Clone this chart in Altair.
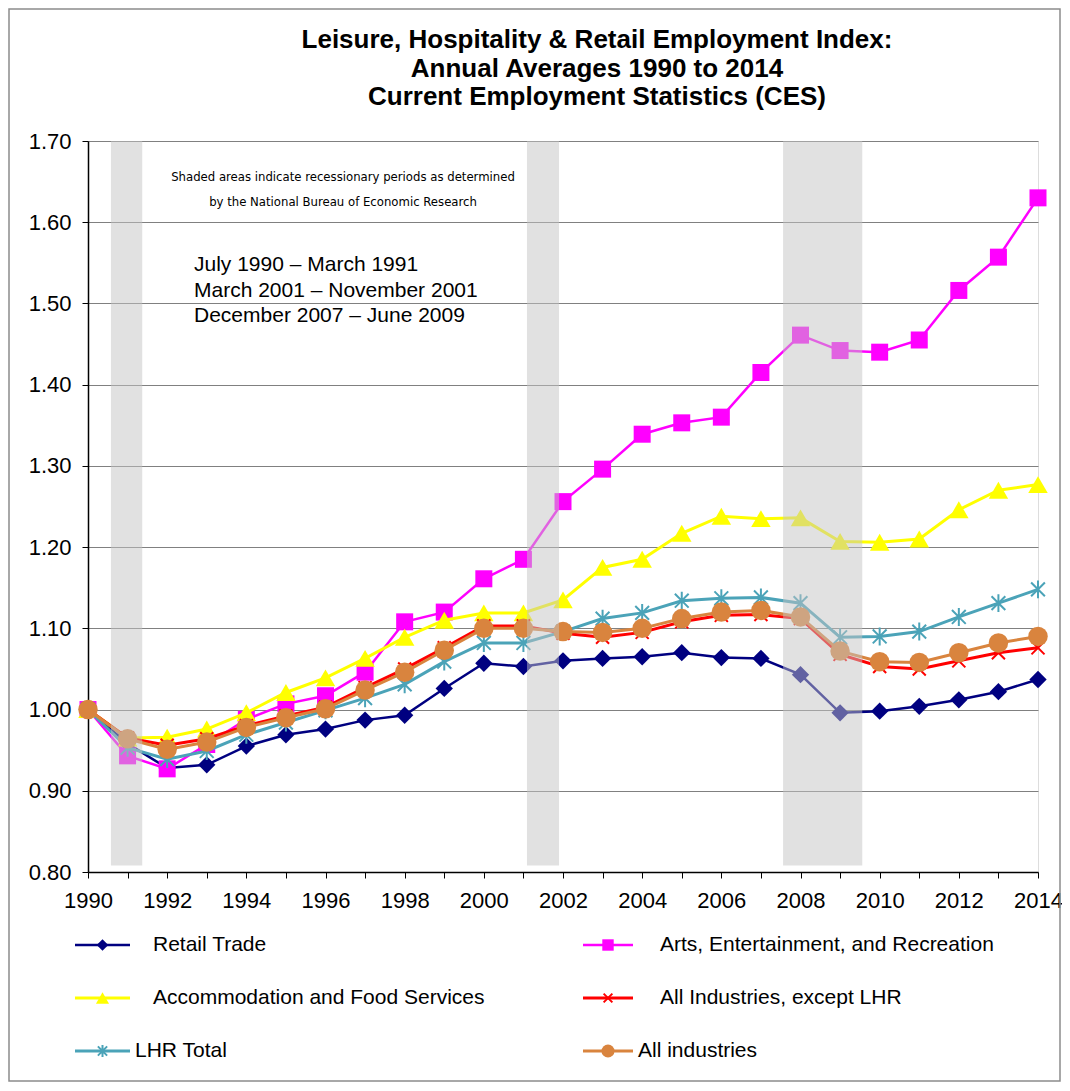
import altair as alt
import pandas as pd

FONT = "Liberation Sans"

years = list(range(1990, 2015))

series_names = [
    "Retail Trade",
    "Arts, Entertainment, and Recreation",
    "Accommodation and Food Services",
    "All Industries, except LHR",
    "LHR Total",
    "All industries",
]

retail = [1.000, 0.958, 0.928, 0.932, 0.955, 0.969, 0.976, 0.987, 0.993, 1.026, 1.057, 1.053, 1.060,
          1.063, 1.065, 1.070, 1.064, 1.063, 1.043, 0.996, 0.998, 1.004, 1.012, 1.022, 1.037]
arts = [1.000, 0.943, 0.927, 0.957, 0.988, 1.007, 1.017, 1.046, 1.108, 1.120, 1.161, 1.185, 1.256,
        1.296, 1.339, 1.353, 1.360, 1.415, 1.461, 1.442, 1.440, 1.455, 1.516, 1.557, 1.630]
accommodation = [1.000, 0.965, 0.966, 0.976, 0.996, 1.021, 1.039, 1.063, 1.089, 1.110, 1.119, 1.119, 1.135,
                 1.175, 1.185, 1.217, 1.238, 1.235, 1.236, 1.207, 1.206, 1.210, 1.246, 1.270, 1.277]
all_except_lhr = [1.000, 0.965, 0.956, 0.964, 0.980, 0.992, 1.003, 1.027, 1.050, 1.076, 1.103, 1.103, 1.094,
                  1.089, 1.095, 1.108, 1.116, 1.117, 1.112, 1.068, 1.053, 1.050, 1.060, 1.070, 1.076]
lhr_total = [1.000, 0.953, 0.939, 0.949, 0.969, 0.984, 0.999, 1.014, 1.031, 1.059, 1.082, 1.082, 1.096,
             1.112, 1.119, 1.134, 1.137, 1.138, 1.131, 1.089, 1.090, 1.096, 1.114, 1.131, 1.148]
all_industries = [1.000, 0.964, 0.951, 0.960, 0.978, 0.990, 1.001, 1.024, 1.046, 1.073, 1.100, 1.100, 1.096,
                  1.095, 1.100, 1.112, 1.120, 1.122, 1.114, 1.072, 1.059, 1.058, 1.070, 1.082, 1.090]

series_values = [retail, arts, accommodation, all_except_lhr, lhr_total, all_industries]

rec_start = [1990.58, 2001.09, 2007.56]
rec_end = [1991.37, 2001.90, 2009.56]

y_ticks = [0.80, 0.90, 1.00, 1.10, 1.20, 1.30, 1.40, 1.50, 1.60, 1.70]

title_lines = [
    "Leisure, Hospitality & Retail Employment Index:",
    "Annual Averages 1990 to 2014",
    "Current Employment Statistics (CES)",
]
note_lines = [
    "Shaded  areas indicate recessionary periods as determined",
    "by the National  Bureau of Economic Research",
]
period_lines = [
    "July 1990 \u2013 March 1991",
    "March 2001 \u2013 November 2001",
    "December 2007 \u2013 June 2009",
]

# ---- styles ----
colors = ["#000080", "#FF00FF", "#FFFF00", "#FF0000", "#4BA3B8", "#D9843E"]
X_PATH = "M-1,-1L1,1M-1,1L1,-1"
AST_PATH = "M-1,-1L1,1M-1,1L1,-1M0,-1.3L0,1.3"
shapes = ["diamond", "square", "triangle-up", X_PATH, AST_PATH, "circle"]
filled = [True, True, True, False, False, True]
msize = [300, 289, 380, 170, 190, 380]
lwidth = [2.5, 2.5, 3, 3, 3, 3]

W, H = 950, 731

xscale = alt.Scale(domain=[1990, 2014], nice=False, zero=False)
yscale = alt.Scale(domain=[0.8, 1.7], nice=False, zero=False)

xaxis = alt.Axis(
    values=years, format="d",
    labelExpr="datum.value % 2 == 0 ? datum.label : ''",
    tickSize=6, tickColor="black", tickWidth=1,
    domainColor="black", domainWidth=1.5,
    labelFont=FONT, labelFontSize=22, labelColor="black", labelPadding=12,
    labelFlush=False, labelOverlap=False, grid=False, title=None,
)
yaxis = alt.Axis(
    values=y_ticks, format=".2f",
    tickSize=6, tickColor="black", tickWidth=1,
    domainColor="black", domainWidth=1.5,
    labelFont=FONT, labelFontSize=22, labelColor="black", labelPadding=11,
    labelFlush=False, grid=True, gridColor="#808080", gridWidth=1.2, title=None,
)

layers = []
for i, name in enumerate(series_names):
    df = pd.DataFrame({"year": years, "value": series_values[i]})
    enc = dict(
        x=alt.X("year:Q", scale=xscale, axis=xaxis),
        y=alt.Y("value:Q", scale=yscale, axis=yaxis),
    )
    layers.append(alt.Chart(df).mark_line(color=colors[i], strokeWidth=lwidth[i]).encode(**enc))
    if filled[i]:
        pt = alt.Chart(df).mark_point(shape=shapes[i], filled=True, fill=colors[i], color=colors[i],
                                       size=msize[i], opacity=1)
    else:
        pt = alt.Chart(df).mark_point(shape=shapes[i], filled=False, stroke=colors[i], color=colors[i],
                                       size=msize[i], strokeWidth=2, opacity=1)
    layers.append(pt.encode(**enc))

# recession bands (drawn over the lines, as in the original)
rec_df = pd.DataFrame({"start": rec_start, "end": rec_end})
bands = alt.Chart(rec_df).mark_rect(color="#c4c4c4", opacity=0.5).encode(
    x=alt.X("start:Q", scale=xscale, axis=xaxis),
    x2="end:Q",
    y=alt.Y(datum=0.808, scale=yscale, axis=yaxis),
    y2=alt.datum(1.7),
)
layers.append(bands)

one = alt.Data(values=[{"k": 1}])

# chart title (as text so it sits exactly where the original has it)
for j, line in enumerate(title_lines):
    layers.append(
        alt.Chart(one).mark_text(font=FONT, fontSize=26, fontWeight="bold", color="black",
                                 align="center", baseline="middle").encode(
            x=alt.value(509), y=alt.value(-101 + 28.5 * j), text=alt.value(line))
    )

# annotation text
for j, line in enumerate(note_lines):
    layers.append(
        alt.Chart(one).mark_text(font="DejaVu Sans Condensed, Liberation Sans", fontSize=13,
                                 color="black", align="center", baseline="middle").encode(
            x=alt.value(255), y=alt.value(36 + 25 * j), text=alt.value(line))
    )
for j, line in enumerate(period_lines):
    layers.append(
        alt.Chart(one).mark_text(font=FONT, fontSize=21, color="black", align="left",
                                 baseline="alphabetic").encode(
            x=alt.value(106), y=alt.value(130 + 25.5 * j), text=alt.value(line))
    )

# legend (manual, 2 columns x 3 rows, Excel-like layout)
row_y = [804, 857, 910]
col_line = [(-13, 42), (495, 545)]
col_text = [65, 572]
for i, name in enumerate(series_names):
    c, r = i % 2, i // 2
    x1, x2 = col_line[c]
    xm = (x1 + x2) / 2
    yy = row_y[r]
    xt = col_text[c] if r < 2 else x2 + 5
    layers.append(alt.Chart(one).mark_rule(color=colors[i], strokeWidth=lwidth[i]).encode(
        x=alt.value(x1), x2=alt.value(x2), y=alt.value(yy)))
    if filled[i]:
        mk = alt.Chart(one).mark_point(shape=shapes[i], filled=True, fill=colors[i], color=colors[i],
                                       size=msize[i] * 0.45, opacity=1)
    else:
        mk = alt.Chart(one).mark_point(shape=shapes[i], filled=False, stroke=colors[i], color=colors[i],
                                       size=msize[i] * 0.45, strokeWidth=2, opacity=1)
    layers.append(mk.encode(x=alt.value(xm), y=alt.value(yy)))
    layers.append(alt.Chart(one).mark_text(font=FONT, fontSize=21, color="black", align="left",
                                           baseline="middle").encode(
        x=alt.value(xt), y=alt.value(yy), text=alt.value(name)))

# outer chart frame
layers.append(alt.Chart(one).mark_rect(fillOpacity=0, stroke="#8c8c8c", strokeWidth=1.5).encode(
    x=alt.value(-79), x2=alt.value(972), y=alt.value(-132), y2=alt.value(940)))

chart = alt.layer(*layers).properties(
    width=W, height=H,
    padding={"left": 80, "top": 133, "right": 24, "bottom": 211},
    autosize="none",
).configure_view(stroke="#808080", strokeWidth=1.5).configure(background="white")

chart.save("out.html", embed_options={"renderer": "svg", "actions": False})
